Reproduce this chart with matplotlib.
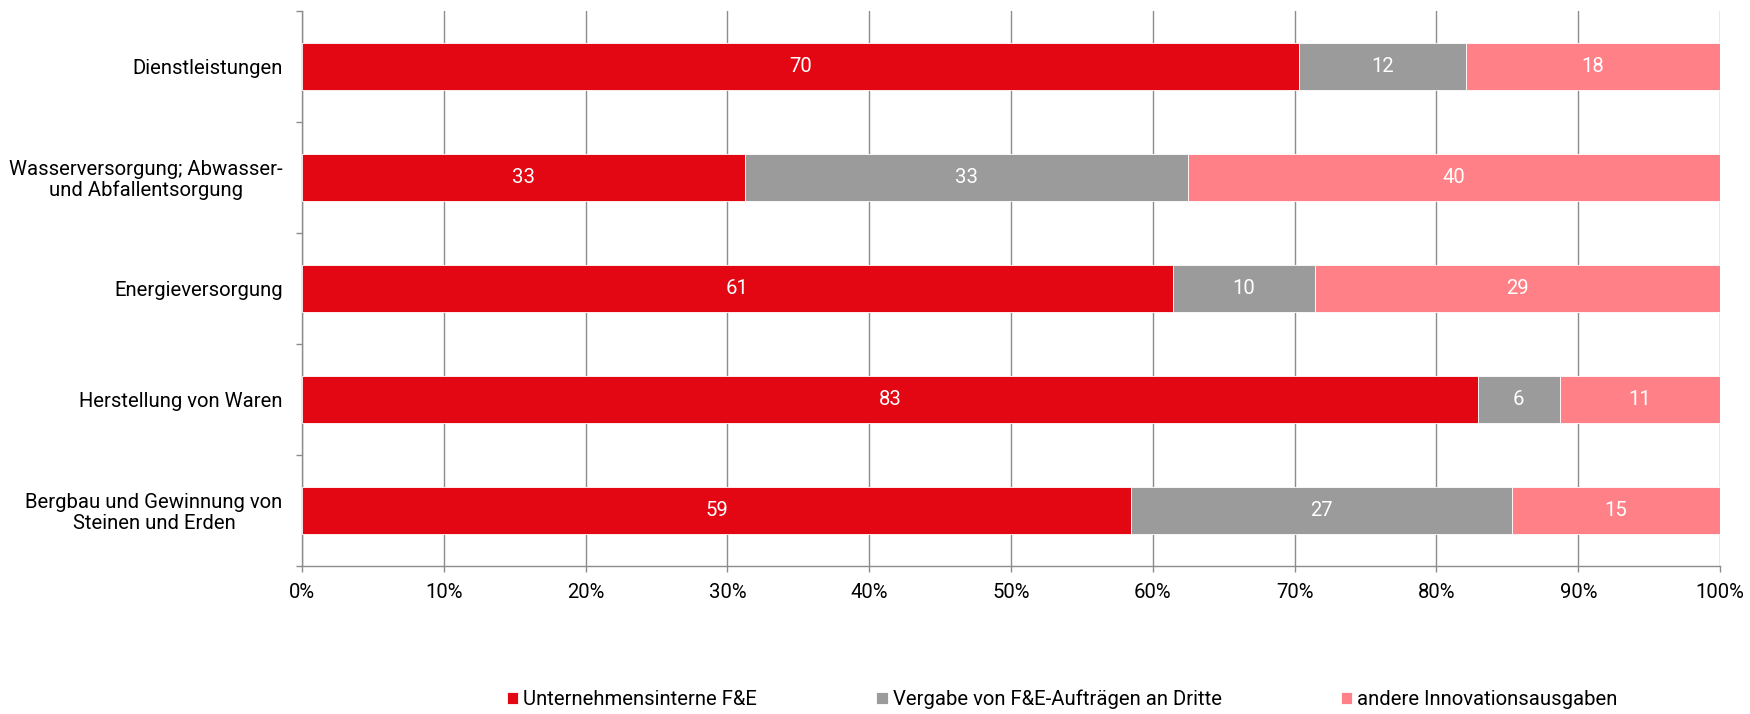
import numpy as np
from matplotlib import pyplot as plt
from matplotlib.ticker import FixedLocator

plt.rcParams['font.family'] = ['Roboto', 'DejaVu Sans']

# category labels, top to bottom
categories = ['Dienstleistungen',
              'Wasserversorgung; Abwasser-\nund Abfallentsorgung',
              'Energieversorgung',
              'Herstellung von Waren',
              'Bergbau und Gewinnung von\nSteinen und Erden']
series_names = ['Unternehmensinterne F&E',
                'Vergabe von F&E-Aufträgen an Dritte',
                'andere Innovationsausgaben']
# raw values (labels show them rounded), bars are normalised to 100 %
intern = [70.3, 33.1, 61.4, 82.9, 58.9]
vergabe = [11.8, 33.1, 10.0, 5.8, 27.0]
andere = [17.9, 39.8, 28.6, 11.3, 14.8]
x_ticks = [0, 10, 20, 30, 40, 50, 60, 70, 80, 90, 100]

colors = ['#E30613', '#9B9B9B', '#FF8086']
grey = '#8C8C8C'
fs = 14.6

values = np.array([intern, vergabe, andere])
shares = values / values.sum(axis=0) * 100

fig = plt.figure(figsize=(17.5, 7.14), dpi=100)
ax = fig.add_axes([0.1726, 0.2073, 0.8103, 0.7773])

y = np.arange(len(categories))
left = np.zeros(len(categories))
handles = []
for i in range(3):
    bars = ax.barh(y, shares[i], left=left, height=0.43, color=colors[i],
                   edgecolor='white', linewidth=0.6, zorder=3, label=series_names[i])
    handles.append(bars)
    for j in range(len(categories)):
        ax.text(left[j] + shares[i][j] / 2, y[j], '%.0f' % values[i][j],
                ha='center', va='center', color='white', fontsize=fs, zorder=4)
    left = left + shares[i]

ax.set_xlim(0, 100)
ax.set_ylim(len(categories) - 0.5, -0.5)
ax.set_xticks(x_ticks)
ax.set_xticklabels(['%d%%' % t for t in x_ticks], fontsize=fs)
ax.set_yticks(y)
ax.set_yticklabels(categories, fontsize=fs, multialignment='center', linespacing=1.1)
ax.yaxis.set_minor_locator(FixedLocator(np.arange(-0.5, len(categories), 1)))

ax.grid(axis='x', color=grey, linewidth=1.0, zorder=0)
ax.set_axisbelow(True)
for s in ['top', 'right']:
    ax.spines[s].set_visible(False)
for s in ['left', 'bottom']:
    ax.spines[s].set_color(grey)
    ax.spines[s].set_linewidth(1.0)

ax.tick_params(axis='x', direction='out', length=4.5, width=1.0, color=grey, pad=8)
ax.tick_params(axis='y', which='major', length=0, pad=14)
ax.tick_params(axis='y', which='minor', direction='out', length=4.5, width=1.0, color=grey)

fig.legend(handles=handles, labels=series_names, loc='center', bbox_to_anchor=(0.607, 0.02),
           ncol=3, frameon=False, fontsize=fs, handlelength=0.55, handleheight=0.55,
           handletextpad=0.25, columnspacing=5.9)

fig.savefig('out.png', dpi=100)
